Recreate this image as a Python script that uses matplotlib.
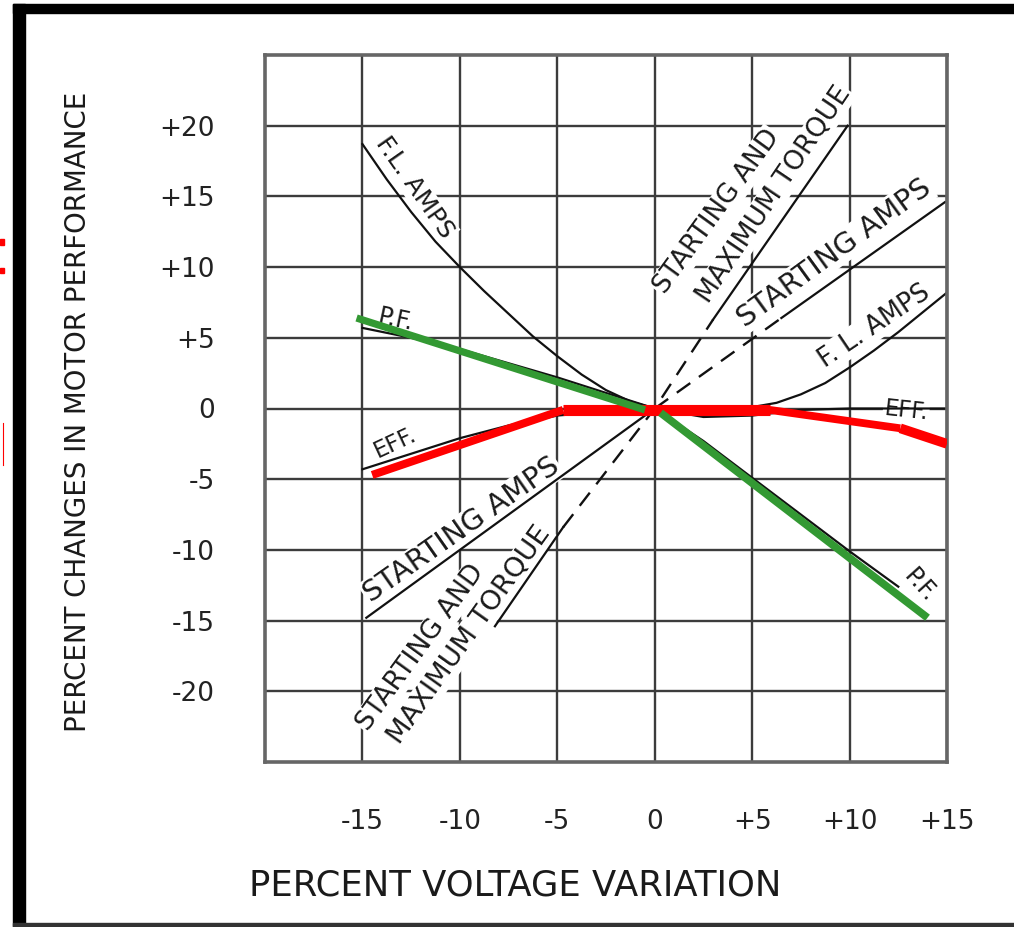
import matplotlib
matplotlib.use("Agg")
import matplotlib.pyplot as plt
from matplotlib import font_manager
from matplotlib.lines import Line2D
from matplotlib.patches import Rectangle

# axis ticks
x_ticks = [-15, -10, -5, 0, 5, 10, 15]
x_labels = ['-15', '-10', '-5', '0', '+5', '+10', '+15']
y_ticks = [-20, -15, -10, -5, 0, 5, 10, 15, 20]
y_labels = ['-20', '-15', '-10', '-5', '0', '+5', '+10', '+15', '+20']

# original black curves (percent voltage variation -> percent change)
fl_amps_lo_v = [-15, -13.75, -12.5, -11.25, -10, -8.75, -7.5, -6.25, -5, -3.75, -2.5, -1.25, 0]
fl_amps_lo = [18.7, 16.2, 13.9, 11.8, 10.0, 8.3, 6.7, 5.1, 3.7, 2.4, 1.3, 0.5, 0]
fl_amps_hi_v = [0, 2.5, 5, 6.25, 7.5, 8.75, 10, 11.25, 12.5, 13.75, 15]
fl_amps_hi = [0, -0.1, 0.1, 0.4, 1.0, 1.8, 2.9, 4.1, 5.4, 6.8, 8.2]

eff_lo_v = [-15, -12.5, -10, -7.5, -5, -2.5, 0]
eff_lo = [-4.3, -3.2, -2.1, -1.2, -0.5, -0.2, 0]
eff_hi_v = [0, 2.5, 5, 7.5, 10, 15]
eff_hi = [0, -0.6, -0.5, -0.1, 0, 0]

pf_lo_v = [-15, -12.5, -10, -7.5, -5, -2.5, 0]
pf_lo = [5.7, 5.0, 4.2, 3.2, 2.2, 1.1, 0]
pf_hi_v = [0, 2.5, 5, 7.5, 10, 12.5]
pf_hi = [0, -2.3, -4.9, -7.5, -10.1, -12.6]

# starting amps / starting & max torque (solid - dashed - solid)
sa_v = [-14.8, -5.0, 0, 6.5, 14.9]
sa = [-14.8, -5.0, 0, 6.4, 14.6]
tq_v = [-8.2, -4.7, 0, 3.0, 9.9]
tq = [-15.4, -8.4, 0, 6.3, 20.0]

# coloured overlays
eff_new_v = [-14.5, -4.7, 5.9, 12.6, 15.0]
eff_new = [-4.7, -0.1, -0.1, -1.4, -2.5]
pf_new_lo_v = [-15.3, -0.5]
pf_new_lo = [6.4, -0.1]
pf_new_hi_v = [0.3, 14.0]
pf_new_hi = [-0.3, -14.8]

W, H = 1014, 927
fig = plt.figure(figsize=(W / 100, H / 100), dpi=100)
ax = fig.add_axes([265 / W, 1 - 762 / H, 682 / W, 707 / H])

names = {f.name for f in font_manager.fontManager.ttflist}
if 'Liberation Sans Narrow' in names:
    narrow, k = 'Liberation Sans Narrow', 1.0
else:
    narrow, k = 'DejaVu Sans', 0.82

ax.set_xlim(-20, 15)
ax.set_ylim(-25, 25)
ax.set_xticks(x_ticks)
ax.set_xticklabels(x_labels)
ax.set_yticks(y_ticks)
ax.set_yticklabels(y_labels)
ax.tick_params(length=0, labelsize=19, colors='#222222')
ax.tick_params(axis='x', pad=34)
ax.tick_params(axis='y', pad=36)
ax.grid(True, color='#3c3c3c', lw=1.7)
ax.set_axisbelow(True)
for s in ax.spines.values():
    s.set_color('#666666')
    s.set_linewidth(2.6)

# black curves
blk = dict(color='#111111', lw=1.6, zorder=2)
dash = dict(color='#111111', lw=1.7, ls=(0, (7, 4.5)), zorder=2)
ax.plot(fl_amps_lo_v, fl_amps_lo, **blk)
ax.plot(fl_amps_hi_v, fl_amps_hi, **blk)
ax.plot(eff_lo_v, eff_lo, **blk)
ax.plot(eff_hi_v, eff_hi, **blk)
ax.plot(pf_lo_v, pf_lo, **blk)
ax.plot(pf_hi_v, pf_hi, **blk)
ax.plot(sa_v[:3], sa[:3], **blk)
ax.plot(sa_v[2:4], sa[2:4], **dash)
ax.plot(sa_v[3:], sa[3:], **blk)
ax.plot(tq_v[:2], tq[:2], **blk)
ax.plot(tq_v[1:4], tq[1:4], **dash)
ax.plot(tq_v[3:], tq[3:], **blk)

# red efficiency overlay, segments of different thickness
red_widths = [5.8, 8.0, 5.6, 7.0]
for i, lw in enumerate(red_widths):
    ax.plot(eff_new_v[i:i + 2], eff_new[i:i + 2], color='#ff0000', lw=lw,
            solid_capstyle='butt', zorder=4)

# green power factor overlay
ax.plot(pf_new_lo_v, pf_new_lo, color='#339933', lw=5.2, solid_capstyle='butt', zorder=5)
ax.plot(pf_new_hi_v, pf_new_hi, color='#339933', lw=5.6, solid_capstyle='butt', zorder=5)

# curve labels (white backing hides grid lines as in the scan)
box = dict(boxstyle='square,pad=0.05', fc='white', ec='none')
def lab(x, y, s, rot, size):
    ax.text(x, y, s, rotation=rot, rotation_mode='anchor', ha='center', va='center',
            fontsize=size * k, family=narrow, color='#1a1a1a', bbox=box, zorder=1.5)

lab(-12.3, 15.6, 'F.L. AMPS', -55, 22)
lab(3.2, 13.9, 'STARTING AND', 54, 23)
lab(6.1, 15.1, 'MAXIMUM TORQUE', 56, 23.5)
lab(9.2, 11.0, 'STARTING AMPS', 36, 25.5)
lab(11.25, 5.8, 'F. L. AMPS', 34, 22.5)
lab(12.9, -0.2, 'EFF.', -6, 20)
lab(13.6, -12.5, 'P.F.', -48, 21)
lab(-13.3, 6.3, 'P.F.', -12, 21)
lab(-13.3, -2.4, 'EFF.', 25, 20)
lab(-9.9, -8.6, 'STARTING AMPS', 35, 25.5)
lab(-12.0, -16.9, 'STARTING AND', 54, 23.5)
lab(-9.5, -16.0, 'MAXIMUM TORQUE', 54.5, 24)

# axis titles
fig.text(78 / W, 1 - 412 / H, 'PERCENT CHANGES IN MOTOR PERFORMANCE', rotation=90,
         ha='center', va='center', fontsize=24.3 * k, family=narrow, color='#1a1a1a')
fig.text(515 / W, 1 - 886 / H, 'PERCENT VOLTAGE VARIATION', ha='center', va='center',
         fontsize=25.5, color='#1a1a1a')

# scanned frame and edge marks
fig.add_artist(Rectangle((13 / W, 0), 12 / W, 1 - 4 / H, transform=fig.transFigure, color='black'))
fig.add_artist(Rectangle((13 / W, 1 - 13 / H), 1, 9 / H, transform=fig.transFigure, color='black'))
fig.add_artist(Rectangle((13 / W, 1 - 926 / H), 1, 3 / H, transform=fig.transFigure, color='#333333'))
fig.add_artist(Rectangle((0, 1 - 245 / H), 4 / W, 6 / H, transform=fig.transFigure, color='red'))
fig.add_artist(Rectangle((0, 1 - 273 / H), 4 / W, 5 / H, transform=fig.transFigure, color='red'))
fig.add_artist(Line2D([3 / W, 3 / W], [1 - 423 / H, 1 - 465 / H], transform=fig.transFigure,
                      color='red', lw=0.8))

fig.savefig('out.png', dpi=100)
